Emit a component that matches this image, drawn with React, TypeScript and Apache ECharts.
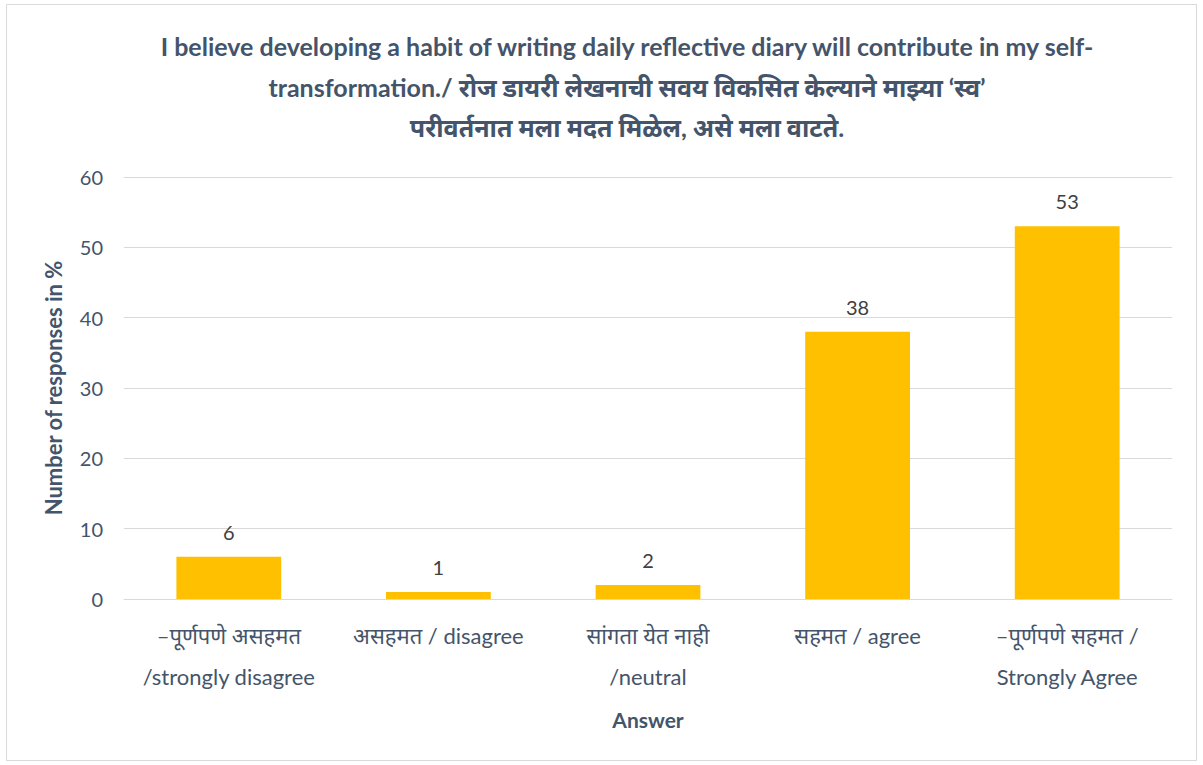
import React, { useEffect, useRef } from "react";
import * as echarts from "echarts";

const titleText =
  "I believe developing a habit of writing daily reflective diary will contribute in my self-\ntransformation./ रोज डायरी लेखनाची सवय विकसित केल्याने माझ्या ‘स्व’\nपरीवर्तनात मला मदत मिळेल, असे मला वाटते.";
const categories = [
  "–पूर्णपणे असहमत\n/strongly disagree",
  "असहमत / disagree",
  "सांगता येत नाही\n/neutral",
  "सहमत / agree",
  "–पूर्णपणे सहमत /\nStrongly Agree",
];
const values = [6, 1, 2, 38, 53];
const yTicks = [0, 10, 20, 30, 40, 50, 60];
const xName = "Answer";
const yName = "Number of responses in %";

const FONT = "Lato, 'Noto Sans', 'DejaVu Sans', sans-serif";
const TXT = "#44546A";

export default function App() {
  const ref = useRef<HTMLDivElement>(null);
  useEffect(() => {
    if (!ref.current) return;
    const chart = echarts.init(ref.current, undefined, { renderer: "svg" });
    chart.setOption({
      animation: false,
      backgroundColor: "#fff",
      textStyle: { fontFamily: FONT },
      title: {
        text: titleText,
        left: 622,
        textAlign: "center",
        top: 21,
        textStyle: {
          fontFamily: FONT,
          fontSize: 25,
          fontWeight: "bold",
          color: TXT,
          lineHeight: 40.5,
        },
      },
      graphic: [
        {
          type: "rect",
          shape: { x: 6.5, y: 4.5, width: 1190, height: 756 },
          style: { fill: "none", stroke: "#D9D9D9", lineWidth: 1 },
          silent: true,
        },
      ],
      grid: { left: 124, right: 31, top: 177, bottom: 166, containLabel: false },
      xAxis: {
        type: "category",
        data: categories,
        name: xName,
        nameLocation: "middle",
        nameGap: 110,
        nameTextStyle: { fontFamily: FONT, fontSize: 21, fontWeight: "bold", color: TXT },
        axisTick: { show: false },
        axisLine: { show: true, lineStyle: { color: "#D9D9D9" } },
        axisLabel: {
          interval: 0,
          fontFamily: FONT,
          fontSize: 22,
          color: TXT,
          lineHeight: 41,
          margin: 16,
        },
      },
      yAxis: {
        type: "value",
        min: yTicks[0],
        max: yTicks[yTicks.length - 1],
        interval: 10,
        name: yName,
        nameLocation: "middle",
        nameGap: 60,
        nameTextStyle: { fontFamily: FONT, fontSize: 22, fontWeight: "bold", color: TXT },
        axisLine: { show: false },
        axisTick: { show: false },
        splitLine: { lineStyle: { color: "#D9D9D9", width: 1 } },
        axisLabel: { fontFamily: FONT, fontSize: 20, color: TXT, margin: 21 },
      },
      series: [
        {
          type: "bar",
          data: values,
          barWidth: "50%",
          itemStyle: { color: "#FFC000" },
          label: {
            show: true,
            position: "top",
            distance: 15,
            fontFamily: FONT,
            fontSize: 20,
            color: "#404040",
          },
        },
      ],
    });
    return () => chart.dispose();
  }, []);
  return (
    <div
      ref={ref}
      style={{ position: "fixed", left: 0, top: 0, width: 1203, height: 765 }}
    />
  );
}
